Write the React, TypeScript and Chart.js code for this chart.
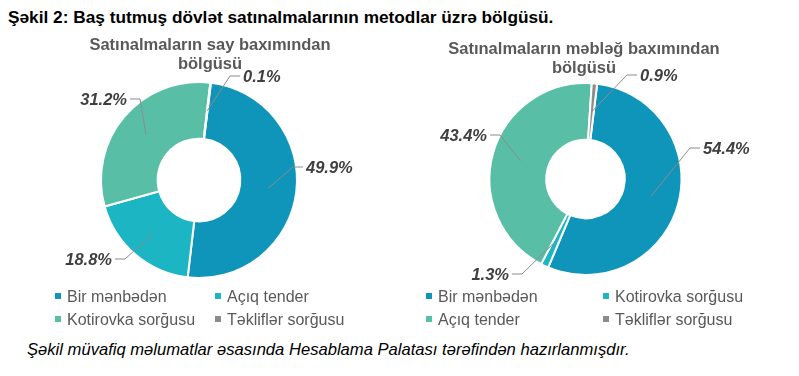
import React, { useEffect, useRef } from "react";
import { Chart, registerables } from "chart.js";

Chart.register(...registerables);

const FONT = '"Liberation Sans", Arial, Helvetica, sans-serif';

// ---- data ----
const headerText = "Şəkil 2: Baş tutmuş dövlət satınalmalarının metodlar üzrə bölgüsü.";
const footerText = "Şəkil müvafiq məlumatlar əsasında Hesablama Palatası tərəfindən hazırlanmışdır.";

const countTitle = ["Satınalmaların say baxımından", "bölgüsü"];
const countLabels = ["Bir mənbədən", "Açıq tender", "Kotirovka sorğusu", "Təkliflər sorğusu"];
const countValues = [49.9, 18.8, 31.2, 0.1];

const amountTitle = ["Satınalmaların məbləğ baxımından", "bölgüsü"];
const amountLabels = ["Bir mənbədən", "Kotirovka sorğusu", "Açıq tender", "Təkliflər sorğusu"];
const amountValues = [54.4, 1.3, 43.4, 0.9];

// ---- styles ----
const sliceColors = ["#0E95B9", "#1BB5C4", "#58BFA6", "#8C8C8C"];
// elbow of each leader line, relative to the donut centre
const countElbows = [[94, -13], [-74, 79], [-59, -81], [31, -104]];
const amountElbows = [[104.5, -31], [-63.5, 95], [-85.5, -44], [41.5, -104]];

const leaderLabels = {
  id: "leaderLabels",
  afterDatasetsDraw(chart: any, _args: any, opts: any) {
    const ctx = chart.ctx;
    const meta = chart.getDatasetMeta(0);
    const values = chart.data.datasets[0].data as number[];
    meta.data.forEach((arc: any, i: number) => {
      const p = arc.getProps(["x", "y", "startAngle", "endAngle", "innerRadius", "outerRadius"], true);
      const mid = (p.startAngle + p.endAngle) / 2;
      const r = (p.innerRadius + p.outerRadius) / 2;
      const ax = p.x + Math.cos(mid) * r;
      const ay = p.y + Math.sin(mid) * r;
      const [ox, oy] = opts.elbows[i];
      const ex = p.x + ox;
      const ey = p.y + oy;
      const right = ox >= 0;
      const hx = ex + (right ? 10 : -10);
      ctx.save();
      ctx.strokeStyle = "#8C8C8C";
      ctx.lineWidth = 1;
      ctx.beginPath();
      ctx.moveTo(ax, ay);
      ctx.lineTo(ex, ey);
      ctx.lineTo(hx, ey);
      ctx.stroke();
      ctx.font = `italic bold 16.5px ${FONT}`;
      ctx.fillStyle = "#404040";
      ctx.textAlign = right ? "left" : "right";
      ctx.textBaseline = "middle";
      ctx.fillText(`${values[i].toFixed(1)}%`, hx + (right ? 3 : -3), ey + 1);
      ctx.restore();
    });
  },
};

type DonutProps = {
  labels: string[];
  values: number[];
  elbows: number[][];
  left: number;
  top: number;
  width: number;
  height: number;
  padding: { left: number; right: number; top: number; bottom: number };
  radius: number;
  cutout: number;
};

function Donut(props: DonutProps) {
  const ref = useRef<HTMLCanvasElement>(null);
  useEffect(() => {
    if (!ref.current) return;
    const chart = new Chart(ref.current, {
      type: "doughnut",
      data: {
        labels: props.labels,
        datasets: [
          {
            data: props.values,
            backgroundColor: sliceColors,
            borderColor: "#FFFFFF",
            borderWidth: 2,
          },
        ],
      },
      options: {
        animation: false,
        responsive: false,
        events: [],
        rotation: 7,
        radius: props.radius,
        cutout: props.cutout,
        layout: { padding: props.padding },
        plugins: {
          legend: { display: false },
          tooltip: { enabled: false },
          title: { display: false },
          leaderLabels: { elbows: props.elbows },
        } as any,
      } as any,
      plugins: [leaderLabels],
    });
    return () => chart.destroy();
  }, []);
  return (
    <canvas
      ref={ref}
      width={props.width}
      height={props.height}
      style={{ position: "absolute", left: props.left, top: props.top, width: props.width, height: props.height }}
    />
  );
}

function Legend({ labels, cols, markerXs, rowYs }: { labels: string[]; cols: number; markerXs: number[]; rowYs: number[] }) {
  return (
    <>
      {labels.map((l, i) => {
        const c = i % cols;
        const r = Math.floor(i / cols);
        return (
          <div
            key={l + i}
            style={{
              position: "absolute",
              left: markerXs[c],
              top: rowYs[r] - 10,
              height: 20,
              lineHeight: "20px",
              display: "flex",
              alignItems: "center",
              whiteSpace: "nowrap",
              fontFamily: FONT,
              fontSize: 16,
              color: "#595959",
            }}
          >
            <span style={{ display: "inline-block", width: 6, height: 6, background: sliceColors[i], marginRight: 6, marginTop: -2 }} />
            <span>{l}</span>
          </div>
        );
      })}
    </>
  );
}

function Title({ lines, cx, top }: { lines: string[]; cx: number; top: number }) {
  return (
    <div
      style={{
        position: "absolute",
        left: cx - 200,
        width: 400,
        top,
        textAlign: "center",
        fontFamily: FONT,
        fontWeight: "bold",
        fontSize: 16.5,
        lineHeight: "19px",
        color: "#595959",
      }}
    >
      {lines.map((t) => (
        <div key={t}>{t}</div>
      ))}
    </div>
  );
}

export default function App() {
  return (
    <div style={{ position: "absolute", left: 0, top: 0, width: 799, height: 376, background: "#FFFFFF", overflow: "hidden" }}>
      <div
        style={{
          position: "absolute",
          left: 8,
          top: 7,
          fontFamily: FONT,
          fontWeight: "bold",
          fontSize: 17.25,
          lineHeight: "20px",
          color: "#000000",
          whiteSpace: "nowrap",
        }}
      >
        {headerText}
      </div>

      <Donut
        labels={countLabels}
        values={countValues}
        elbows={countElbows}
        left={0}
        top={30}
        width={400}
        height={260}
        padding={{ left: 0, right: 2, top: 40, bottom: 0 }}
        radius={98}
        cutout={46}
      />
      <Donut
        labels={amountLabels}
        values={amountValues}
        elbows={amountElbows}
        left={400}
        top={30}
        width={399}
        height={260}
        padding={{ left: 0, right: 28, top: 38, bottom: 0 }}
        radius={96}
        cutout={45}
      />

      <Title lines={countTitle} cx={210} top={35} />
      <Title lines={amountTitle} cx={584} top={39} />

      <Legend labels={countLabels} cols={2} markerXs={[55, 215]} rowYs={[297, 320]} />
      <Legend labels={amountLabels} cols={2} markerXs={[426, 603]} rowYs={[297, 320]} />

      <div
        style={{
          position: "absolute",
          left: 27,
          top: 340,
          fontFamily: FONT,
          fontStyle: "italic",
          fontSize: 16.6,
          lineHeight: "20px",
          color: "#000000",
          whiteSpace: "nowrap",
        }}
      >
        {footerText}
      </div>
    </div>
  );
}
